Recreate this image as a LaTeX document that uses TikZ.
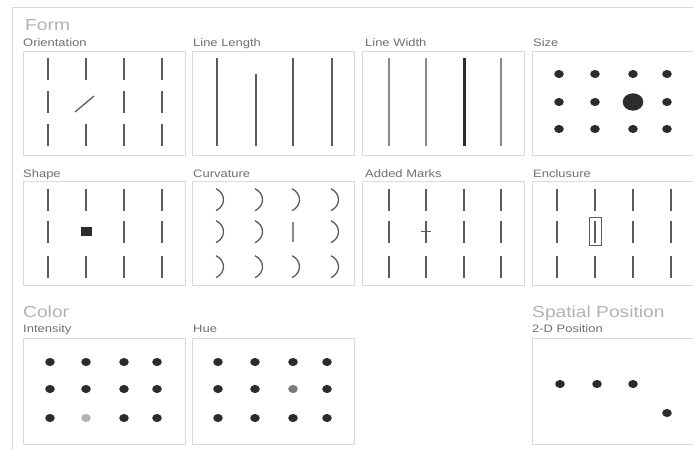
\documentclass[tikz,border=0pt]{standalone}
\usepackage{fontspec}
\setmainfont{Liberation Sans}
\newfontfamily\panelfont[FakeStretch=1.2]{Liberation Sans}
\usetikzlibrary{positioning}

\definecolor{framegray}{HTML}{DADADA}
\definecolor{markgray}{HTML}{5C5C5C}
\definecolor{thingray}{HTML}{8A8A8A}
\definecolor{dotgray}{HTML}{2C2C2C}
\definecolor{labelgray}{HTML}{6E6E6E}
\definecolor{titlegray}{HTML}{B2B2B2}

\tikzset{
	panel/.style={draw=framegray, line width=0.9pt},
	tickline/.style={draw=markgray, line width=1.6pt},
	arcline/.style={draw=markgray, line width=1.3pt},
	sublabel/.style={anchor=base west, inner sep=0pt, text=labelgray,
		font=\panelfont\fontsize{10.8}{13}\selectfont},
	grouptitle/.style={anchor=base west, inner sep=0pt, text=titlegray,
		font=\panelfont\fontsize{16}{19}\selectfont},
}

\begin{document}
\begin{tikzpicture}[x=1pt, y=-1pt]

		\useasboundingbox (0,0) rectangle (693,450);

		\def\pw{162} \def\ph{104} % panel width and height
		\def\dotrx{4.8pt} \def\dotry{4.1pt} % dots are a bit wider than tall

		% outer frame
		\draw[framegray, line width=0.9pt] (12,450) -- (12,7.5) -- (694,7.5);

		% group titles and panel labels
		\node[grouptitle] (formTitle) at (25,30) {Form};
		\node[grouptitle] (colorTitle) at (23,317) {Color};
		\node[grouptitle] (spatialTitle) at (532,317) {Spatial Position};

		\node[sublabel] (orientLabel) at (23,46) {Orientation};
		\node[sublabel] (lengthLabel) at (193,46) {Line Length};
		\node[sublabel] (widthLabel) at (365,46) {Line Width};
		\node[sublabel] (sizeLabel) at (533,46) {Size};
		\node[sublabel] (shapeLabel) at (23,177) {Shape};
		\node[sublabel] (curveLabel) at (193,177) {Curvature};
		\node[sublabel] (marksLabel) at (365,177) {Added Marks};
		\node[sublabel] (enclLabel) at (533,177) {Enclusure};
		\node[sublabel] (intensLabel) at (23,332) {Intensity};
		\node[sublabel] (hueLabel) at (193,332) {Hue};
		\node[sublabel] (posLabel) at (532,332) {2-D Position};

		% panel frames
		\foreach \px in {23,192,362.5,532}
			\foreach \py in {51,181.7}
				\draw[panel] (\px,\py) rectangle ++(\pw,\ph);
		\foreach \px in {23,192,532}
			\draw[panel] (\px,338) rectangle ++(\pw,106);

		% Orientation: one tilted line
		\begin{scope}[shift={(23,51)}]
			\foreach \cx [count=\i] in {25,63,101,139}
			\foreach \ry [count=\j] in {18,51,84} {
				\ifnum\i\j=22
					\draw[tickline, line width=1.3pt] (52,61) -- (71,45);
				\else
					\draw[tickline] (\cx,\ry-11) -- (\cx,\ry+11);
				\fi
			}
		\end{scope}

		% Line Length: one short line
		\begin{scope}[shift={(192,51)}]
			\foreach \cx in {25,101,140}
				\draw[tickline] (\cx,7) -- (\cx,95);
			\draw[tickline] (64,23) -- (64,95);
		\end{scope}

		% Line Width: one thick line
		\begin{scope}[shift={(362.5,51)}]
			\foreach \cx in {26.5,63.5,138.5}
				\draw[thingray, line width=1.1pt] (\cx,7) -- (\cx,95);
			\draw[dotgray, line width=3pt] (101.5,7) -- (101.5,95);
		\end{scope}

		% Size: one large dot
		\begin{scope}[shift={(532,51)}]
			\foreach \cx [count=\i] in {27,63,101,135}
			\foreach \ry [count=\j] in {23,51,78} {
				\ifnum\i\j=32
					\fill[dotgray] (\cx,\ry) ellipse [x radius=10.3pt, y radius=8.7pt];
				\else
					\fill[dotgray] (\cx,\ry) ellipse [x radius=\dotrx, y radius=\dotry];
				\fi
			}
		\end{scope}

		% Shape: one square
		\begin{scope}[shift={(23,181.7)}]
			\foreach \cx [count=\i] in {25,63,101,139}
			\foreach \ry [count=\j] in {18,50,85} {
				\ifnum\i\j=22
					\fill[dotgray] (\cx-5.5,\ry-4.5) rectangle (\cx+5.5,\ry+4.5);
				\else
					\draw[tickline] (\cx,\ry-11) -- (\cx,\ry+11);
				\fi
			}
		\end{scope}

		% Curvature: one straight line among arcs
		\begin{scope}[shift={(192,181.7)}]
			\foreach \cx [count=\i] in {25,64,101,140}
			\foreach \ry [count=\j] in {18,50,85} {
				\ifnum\i\j=32
					\draw[thingray, line width=1.2pt] (\cx,\ry-10) -- (\cx,\ry+10);
				\else
					\draw[arcline] (\cx-1,\ry-11) .. controls (\cx+9,\ry-6) and (\cx+9,\ry+6) .. (\cx-1,\ry+11);
				\fi
			}
		\end{scope}

		% Added Marks: one crossed line
		\begin{scope}[shift={(362.5,181.7)}]
			\foreach \cx in {26.5,63.5,101.5,138.5}
				\foreach \ry in {18,50,85}
					\draw[tickline] (\cx,\ry-11) -- (\cx,\ry+11);
			\draw[markgray, line width=1pt] (58.5,50) -- (68.5,50);
		\end{scope}

		% Enclusure: one boxed line
		\begin{scope}[shift={(532,181.7)}]
			\foreach \cx in {25,63,101,139}
				\foreach \ry in {18,50,85}
					\draw[tickline] (\cx,\ry-11) -- (\cx,\ry+11);
			\draw[markgray, line width=0.9pt] (57,36) rectangle (69,64);
		\end{scope}

		% Intensity: one light dot
		\begin{scope}[shift={(23,338)}]
			\foreach \cx [count=\i] in {27,63,101,134}
			\foreach \ry [count=\j] in {24,51,80} {
				\ifnum\i\j=23
					\fill[black!30] (\cx,\ry) ellipse [x radius=\dotrx, y radius=\dotry];
				\else
					\fill[dotgray] (\cx,\ry) ellipse [x radius=\dotrx, y radius=\dotry];
				\fi
			}
		\end{scope}

		% Hue: one dot of another hue
		\begin{scope}[shift={(192,338)}]
			\foreach \cx [count=\i] in {26,63,101,135}
			\foreach \ry [count=\j] in {24,51,80} {
				\ifnum\i\j=32
					\fill[black!52] (\cx,\ry) ellipse [x radius=\dotrx, y radius=\dotry];
				\else
					\fill[dotgray] (\cx,\ry) ellipse [x radius=\dotrx, y radius=\dotry];
				\fi
			}
		\end{scope}

		% 2-D Position: one dot out of line
		\begin{scope}[shift={(532,338)}]
			\foreach \cx in {28,65,101}
				\fill[dotgray] (\cx,46) ellipse [x radius=\dotrx, y radius=\dotry];
			\fill[dotgray] (135,75) ellipse [x radius=\dotrx, y radius=\dotry];
		\end{scope}

	\end{tikzpicture}
\end{document}
